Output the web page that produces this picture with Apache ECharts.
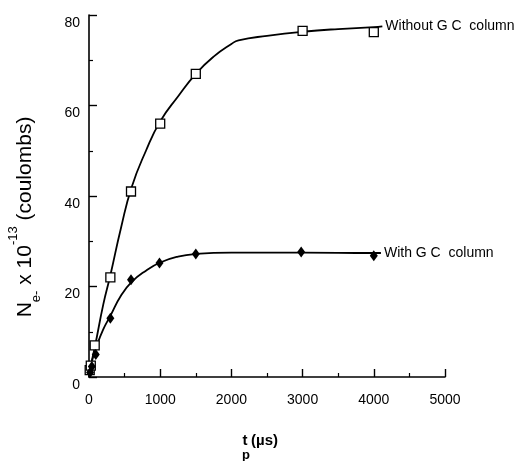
<!DOCTYPE html>
<html>
<head>
<meta charset="utf-8">
<script src="https://cdn.jsdelivr.net/npm/echarts@6/dist/echarts.min.js"></script>
<style>
  html, body { margin: 0; padding: 0; background: #fff; }
  #chart { width: 522px; height: 461px; }
</style>
</head>
<body>
<div id="chart"></div>
<script>
// measured points (t in µs, charge x 10^-13 C)
const withoutT = [10, 25, 80, 300, 590, 1000, 1500, 3000, 4000];
const withoutN = [1.5, 2.5, 7, 22, 41, 56, 67, 76.5, 76.2];
const withT = [15, 40, 95, 300, 590, 990, 1500, 2980, 4000];
const withN = [1, 2.3, 5, 13, 21.5, 25.2, 27.2, 27.6, 26.8];

// fitted curves as drawn in the figure
const withoutCurveT = [0, 80, 200, 300, 450, 600, 800, 1000, 1250, 1500, 1750, 2000, 2100, 2500, 3000, 3500, 4000, 4120];
const withoutCurveN = [1, 6.5, 16, 22.5, 33, 42, 50, 56.5, 62, 67, 70.8, 73.6, 74.4, 75.4, 76.3, 76.9, 77.3, 77.5];
const withCurveT = [0, 50, 100, 200, 300, 450, 600, 800, 1000, 1250, 1500, 2000, 3000, 4000, 4100];
const withCurveN = [0, 4, 6.5, 10.5, 13.5, 18, 21, 23.5, 25.3, 26.6, 27.2, 27.5, 27.5, 27.4, 27.4];

const xTicks = [0, 1000, 2000, 3000, 4000, 5000];
const yTicks = [0, 20, 40, 60, 80];

const font = 'Liberation Sans, Arial, sans-serif';
const zip = (a, b) => a.map((v, i) => [v, b[i]]);

const chart = echarts.init(document.getElementById('chart'));

const axisCommon = {
  axisLine: { lineStyle: { color: '#000', width: 1.6 } },
  axisTick: { inside: true, length: 8, lineStyle: { color: '#000', width: 1.4 } },
  minorTick: { show: true, splitNumber: 2, length: 4, lineStyle: { color: '#000', width: 1.2 } },
  splitLine: { show: false },
};

chart.setOption({
  animation: false,
  grid: { left: 89, right: 77, top: 15, bottom: 84 },
  xAxis: Object.assign({
    type: 'value', min: 0, max: 5000, interval: 1000,
    axisLabel: { color: '#000', fontSize: 14, fontFamily: font, margin: 16,
      formatter: v => xTicks.includes(v) ? String(v) : '' },
  }, axisCommon),
  yAxis: Object.assign({
    type: 'value', min: 0, max: 80, interval: 20,
    axisLabel: { color: '#000', fontSize: 14, fontFamily: font, margin: 9, verticalAlign: 'top', lineHeight: 16,
      formatter: v => yTicks.includes(v) ? String(v) : '' },
  }, axisCommon),
  series: [
    {
      type: 'line', data: zip(withoutCurveT, withoutCurveN), smooth: 0.5,
      showSymbol: false, lineStyle: { color: '#000', width: 1.8 },
      endLabel: { show: true, formatter: 'Without G C  column', color: '#000', fontSize: 14, fontFamily: font, distance: 3 },
    },
    {
      type: 'line', data: zip(withCurveT, withCurveN), smooth: 0.5,
      showSymbol: false, lineStyle: { color: '#000', width: 1.8 },
      endLabel: { show: true, formatter: 'With G C  column', color: '#000', fontSize: 14, fontFamily: font, distance: 3 },
    },
    {
      type: 'scatter', data: zip(withoutT, withoutN), symbol: 'rect', symbolSize: 9,
      itemStyle: { color: '#fff', borderColor: '#000', borderWidth: 1.3, opacity: 1 },
      z: 3,
    },
    {
      type: 'scatter', data: zip(withT, withN), symbol: 'diamond', symbolSize: [8, 11],
      itemStyle: { color: '#000', opacity: 1 },
      z: 3,
    },
  ],
  graphic: [
    {
      type: 'text', x: 25, y: 217, rotation: Math.PI / 2,
      style: {
        text: '{m|N}{sub|e-}{m| x 10}{sup|-13}{m| (coulombs)}',
        align: 'center', verticalAlign: 'middle',
        rich: {
          m: { fontSize: 21, fontFamily: font, fill: '#000', lineHeight: 36 },
          sub: { fontSize: 13, fontFamily: font, fill: '#000', verticalAlign: 'bottom', lineHeight: 13 },
          sup: { fontSize: 13, fontFamily: font, fill: '#000', verticalAlign: 'top', lineHeight: 13 },
        },
      },
    },
    {
      type: 'text', x: 245, y: 441,
      style: { text: 't', fontSize: 15, fontWeight: 'bold', fontFamily: font, fill: '#000', align: 'center', verticalAlign: 'middle' },
    },
    {
      type: 'text', x: 246, y: 455,
      style: { text: 'p', fontSize: 13, fontWeight: 'bold', fontFamily: font, fill: '#000', align: 'center', verticalAlign: 'middle' },
    },
    {
      type: 'text', x: 251, y: 441,
      style: { text: '(µs)', fontSize: 15, fontWeight: 'bold', fontFamily: font, fill: '#000', align: 'left', verticalAlign: 'middle' },
    },
  ],
});
</script>
</body>
</html>
